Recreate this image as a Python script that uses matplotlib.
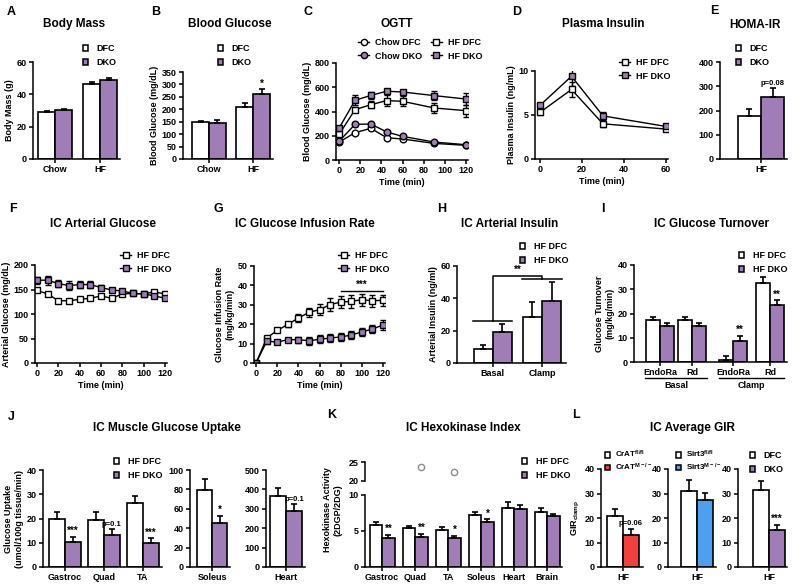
import matplotlib
matplotlib.use('Agg')
import matplotlib.pyplot as plt
from matplotlib.patches import Patch
from matplotlib.lines import Line2D
import numpy as np

plt.rcParams['font.family'] = ['Liberation Sans', 'DejaVu Sans']
plt.rcParams['font.weight'] = 'bold'
plt.rcParams['axes.labelweight'] = 'bold'
plt.rcParams['mathtext.default'] = 'regular'
plt.rcParams['axes.linewidth'] = 1.1

W, H = 800, 584
PURPLE = '#a07db6'
RED = '#f2403d'
BLUE = '#4ea0ef'

# ---- data ----
diet = ['Chow', 'HF']
mass_dfc = [28.8, 46.2]
mass_dfc_err = [0.7, 1.6]
mass_dko = [30.2, 48.8]
mass_dko_err = [0.7, 1.0]
bg_dfc = [148, 210]
bg_dfc_err = [6, 14]
bg_dko = [145, 263]
bg_dko_err = [12, 18]

ogtt_t = [0, 15, 30, 45, 60, 90, 120]
ogtt_chow_dfc = [148, 225, 261, 184, 173, 137, 121]
ogtt_chow_dfc_err = [8, 10, 15, 12, 10, 8, 6]
ogtt_chow_dko = [155, 294, 297, 231, 195, 148, 126]
ogtt_chow_dko_err = [10, 15, 12, 12, 10, 8, 6]
ogtt_hf_dfc = [212, 415, 456, 490, 484, 429, 407]
ogtt_hf_dfc_err = [15, 20, 30, 45, 40, 40, 50]
ogtt_hf_dko = [264, 492, 533, 567, 561, 531, 503]
ogtt_hf_dko_err = [15, 40, 30, 15, 20, 40, 50]

ins_t = [0, 15, 30, 60]
ins_dfc = [5.3, 7.9, 4.0, 3.4]
ins_dfc_err = [0.3, 0.8, 0.4, 0.2]
ins_dko = [6.1, 9.4, 4.9, 3.7]
ins_dko_err = [0.3, 1.1, 0.4, 0.2]

homa_dfc = [179]
homa_dfc_err = [27]
homa_dko = [254]
homa_dko_err = [37]

clamp_t = [0, 10, 20, 30, 40, 50, 60, 70, 80, 90, 100, 110, 120]
ag_dfc = [148, 141, 127, 127, 130, 132, 137, 132, 141, 142, 141, 145, 141]
ag_dfc_err = [3, 4, 3, 3, 3, 3, 3, 3, 3, 3, 3, 3, 3]
ag_dko = [169, 169, 162, 158, 160, 160, 154, 149, 147, 142, 141, 137, 132]
ag_dko_err = [7, 9, 7, 9, 7, 7, 6, 5, 4, 3, 3, 3, 3]

gir_dfc = [0, 12.9, 16.8, 19.9, 23.2, 26.1, 27.5, 30.1, 31.4, 31.8, 32.6, 32.1, 32.3]
gir_dfc_err = [0, 1, 1, 1.3, 2, 2.5, 3, 3.2, 3.3, 3.5, 3, 3, 3]
gir_dko = [0, 11.2, 10.8, 12.0, 12.0, 11.5, 12.2, 12.9, 13.4, 14.4, 16.0, 17.5, 19.6]
gir_dko_err = [0, 1.5, 1, 1, 1.5, 2, 2, 2, 2, 2, 2, 2, 2.5]

ins_state = ['Basal', 'Clamp']
art_ins_dfc = [8.7, 28.5]
art_ins_dfc_err = [2.5, 9]
art_ins_dko = [19.2, 38.5]
art_ins_dko_err = [4.8, 11.5]

turnover_cats = ['EndoRa', 'Rd', 'EndoRa', 'Rd']
turnover_dfc = [17.2, 17.3, 1.0, 32.7]
turnover_dfc_err = [1.3, 1.3, 1.6, 2.5]
turnover_dko = [15.0, 15.0, 8.7, 23.7]
turnover_dko_err = [1.2, 1.2, 2.0, 1.8]

muscles = ['Gastroc', 'Quad', 'TA']
uptake_dfc = [19.8, 19.3, 26.3]
uptake_dfc_err = [2.8, 3.2, 2.8]
uptake_dko = [10.4, 13.3, 10.1]
uptake_dko_err = [2.0, 2.5, 1.8]
soleus_dfc = [79]
soleus_dfc_err = [12]
soleus_dko = [45]
soleus_dko_err = [8]
heart_dfc = [366]
heart_dfc_err = [41]
heart_dko = [289]
heart_dko_err = [36]

tissues = ['Gastroc', 'Quad', 'TA', 'Soleus', 'Heart', 'Brain']
hk_dfc = [5.8, 5.4, 5.1, 7.2, 8.2, 7.6]
hk_dfc_err = [0.5, 0.3, 0.5, 0.4, 0.8, 0.6]
hk_dko = [4.0, 4.2, 4.0, 6.2, 8.1, 7.1]
hk_dko_err = [0.5, 0.4, 0.3, 0.4, 0.5, 0.2]
hk_outlier_idx = [1, 2]
hk_outlier_val = [23.8, 22.4]

crat_ctl = [20.8]
crat_ctl_err = [3.0]
crat_ko = [13.2]
crat_ko_err = [2.5]
sirt3_ctl = [31.2]
sirt3_ctl_err = [4.5]
sirt3_ko = [27.4]
sirt3_ko_err = [2.8]
dko_ctl = [31.5]
dko_ctl_err = [3.5]
dko_ko = [15.0]
dko_ko_err = [2.3]

fig = plt.figure(figsize=(8, 5.84), dpi=100)


def panel(x0, y0, x1, y1):
    ax = fig.add_axes([x0 / W, 1 - y1 / H, (x1 - x0) / W, (y1 - y0) / H])
    ax.spines[['top', 'right']].set_visible(False)
    ax.tick_params(labelsize=6.5, length=3, width=1.1, pad=1.5)
    return ax


def ftext(x, y, s, **kw):
    fig.text(x / W, 1 - y / H, s, **kw)


def title(x, y, s):
    ftext(x, y, s, ha='center', va='center', fontsize=8.5, fontweight='bold')


def letter(x, y, s):
    ftext(x, y, s, ha='left', va='center', fontsize=9, fontweight='bold')


def bars(ax, pos, vals, errs, color, offset, width):
    x = np.asarray(pos, dtype=float) + offset
    ax.bar(x, vals, width, color=color, edgecolor='k', linewidth=1.2, zorder=2)
    ax.errorbar(x, vals, yerr=[np.zeros(len(vals)), errs], fmt='none', ecolor='k',
                elinewidth=1.2, capsize=2.3, capthick=1.2, zorder=3)


def star(ax, x, y, s, size=7):
    ax.text(x, y, s, ha='center', va='bottom', fontsize=size, fontweight='bold')


def curve(ax, t, y, err, marker, face):
    ax.errorbar(t, y, yerr=err, fmt='-' + marker, color='k', mfc=face, mec='k', mew=1,
                ms=4.8, lw=1, elinewidth=1, capsize=2, capthick=1)


def bar_legend(x, y, labels, colors, size=6.5, spacing=0.55, pad=0.9):
    handles = [Patch(facecolor=c, edgecolor='k', linewidth=1.1) for c in colors]
    fig.legend(handles, labels, loc='upper left', bbox_to_anchor=(x / W, 1 - y / H),
               frameon=False, fontsize=size, borderaxespad=0, borderpad=0,
               handlelength=0.6, handleheight=0.6, handletextpad=pad, labelspacing=spacing)


def line_legend(x, y, labels, markers, faces, ncol=1):
    handles = [Line2D([], [], color='k', lw=1, marker=m, mfc=f, mec='k', ms=4.5)
               for m, f in zip(markers, faces)]
    fig.legend(handles, labels, loc='upper left', bbox_to_anchor=(x / W, 1 - y / H),
               frameon=False, fontsize=6.5, borderaxespad=0, borderpad=0, ncol=ncol,
               handlelength=1.25, handletextpad=0.6, labelspacing=0.5, columnspacing=1.0)


w = 0.38

# A Body Mass
ax = panel(33, 62, 120, 159)
pos = np.arange(2)
bars(ax, pos, mass_dfc, mass_dfc_err, 'white', -w / 2, w)
bars(ax, pos, mass_dko, mass_dko_err, PURPLE, w / 2, w)
ax.set_xlim(-0.49, 1.44)
ax.set_ylim(0, 60)
ax.set_yticks([0, 20, 40, 60])
ax.set_xticks(pos, diet)
ax.set_ylabel('Body Mass (g)', fontsize=6.5, labelpad=2)
bar_legend(83, 44, ['DFC', 'DKO'], ['white', PURPLE])
letter(7, 12, 'A')
title(74, 24, 'Body Mass')

# B Blood Glucose
ax = panel(183, 72, 273, 159)
bars(ax, pos, bg_dfc, bg_dfc_err, 'white', -w / 2, w)
bars(ax, pos, bg_dko, bg_dko_err, PURPLE, w / 2, w)
star(ax, 1 + w / 2, bg_dko[1] + bg_dko_err[1] + 3, '*')
ax.set_xlim(-0.59, 1.45)
ax.set_ylim(0, 350)
ax.set_yticks(range(0, 351, 50))
ax.set_xticks(pos, diet)
ax.set_ylabel('Blood Glucose (mg/dL)', fontsize=6.5, labelpad=2)
bar_legend(218, 44, ['DFC', 'DKO'], ['white', PURPLE])
letter(151, 12, 'B')
title(230, 24, 'Blood Glucose')

# C OGTT
ax = panel(336, 63, 468, 160)
curve(ax, ogtt_t, ogtt_chow_dfc, ogtt_chow_dfc_err, 'o', 'white')
curve(ax, ogtt_t, ogtt_chow_dko, ogtt_chow_dko_err, 'o', PURPLE)
curve(ax, ogtt_t, ogtt_hf_dfc, ogtt_hf_dfc_err, 's', 'white')
curve(ax, ogtt_t, ogtt_hf_dko, ogtt_hf_dko_err, 's', PURPLE)
ax.set_xlim(-3, 122)
ax.set_ylim(0, 800)
ax.set_yticks(range(0, 801, 200))
ax.set_xticks(range(0, 121, 20))
ax.set_xlabel('Time (min)', fontsize=6.5, labelpad=2)
ax.set_ylabel('Blood Glucose (mg/dL)', fontsize=6.5, labelpad=2)
line_legend(358, 38, ['Chow DFC', 'Chow DKO', 'HF DFC', 'HF DKO'],
            ['o', 'o', 's', 's'], ['white', PURPLE, 'white', PURPLE], ncol=2)
letter(303, 12, 'C')
title(397, 24, 'OGTT')

# D Plasma Insulin
ax = panel(535, 71, 668, 159)
curve(ax, ins_t, ins_dfc, ins_dfc_err, 's', 'white')
curve(ax, ins_t, ins_dko, ins_dko_err, 's', PURPLE)
ax.set_xlim(-2.4, 61)
ax.set_ylim(0, 10)
ax.set_yticks([0, 5, 10])
ax.set_xticks([0, 20, 40, 60])
ax.set_xlabel('Time (min)', fontsize=6.5, labelpad=2)
ax.set_ylabel('Plasma Insulin (ng/mL)', fontsize=6.5, labelpad=2)
line_legend(619, 58, ['HF DFC', 'HF DKO'], ['s', 's'], ['white', PURPLE])
letter(512, 12, 'D')
title(603, 24, 'Plasma Insulin')

# E HOMA-IR
ax = panel(720, 62, 787, 159)
we = 0.4
bars(ax, [0], homa_dfc, homa_dfc_err, 'white', -we / 2, we)
bars(ax, [0], homa_dko, homa_dko_err, PURPLE, we / 2, we)
star(ax, we / 2, homa_dko[0] + homa_dko_err[0] + 5, 'p=0.08', size=5.5)
ax.set_xlim(-0.71, 0.45)
ax.set_ylim(0, 400)
ax.set_yticks(range(0, 401, 100))
ax.set_xticks([0], ['HF'])
bar_legend(736, 44, ['DFC', 'DKO'], ['white', PURPLE])
letter(710, 11, 'E')
title(755, 25, 'HOMA-IR')

# F IC Arterial Glucose
ax = panel(35, 265, 167, 363)
curve(ax, clamp_t, ag_dfc, ag_dfc_err, 's', 'white')
curve(ax, clamp_t, ag_dko, ag_dko_err, 's', PURPLE)
ax.set_xlim(-1.9, 121.9)
ax.set_ylim(0, 200)
ax.set_yticks(range(0, 201, 50))
ax.set_xticks(range(0, 121, 20))
ax.set_xlabel('Time (min)', fontsize=6.5, labelpad=2)
ax.set_ylabel('Arterial Glucose (mg/dL)', fontsize=6.5, labelpad=2)
line_legend(120, 251, ['HF DFC', 'HF DKO'], ['s', 's'], ['white', PURPLE])
letter(9, 209, 'F')
title(103, 224, 'IC Arterial Glucose')

# G IC Glucose Infusion Rate
ax = panel(254, 266, 385, 363)
curve(ax, clamp_t, gir_dfc, gir_dfc_err, 's', 'white')
curve(ax, clamp_t, gir_dko, gir_dko_err, 's', PURPLE)
ax.plot([80, 120], [37, 37], color='k', lw=1)
star(ax, 100, 37.5, '***')
ax.set_xlim(-2, 121.9)
ax.set_ylim(0, 50)
ax.set_yticks(range(0, 51, 10))
ax.set_xticks(range(0, 121, 20))
ax.set_xlabel('Time (min)', fontsize=6.5, labelpad=2)
ax.set_ylabel('Glucose Infusion Rate\n(mg/kg/min)', fontsize=6.5, labelpad=2)
line_legend(338, 251, ['HF DFC', 'HF DKO'], ['s', 's'], ['white', PURPLE])
letter(213, 209, 'G')
title(305, 224, 'IC Glucose Infusion Rate')

# H IC Arterial Insulin
ax = panel(457, 266, 566, 363)
wh = 0.39
bars(ax, pos, art_ins_dfc, art_ins_dfc_err, 'white', -wh / 2, wh)
bars(ax, pos, art_ins_dko, art_ins_dko_err, PURPLE, wh / 2, wh)
ax.plot([-0.4, 0.4], [26, 26], color='k', lw=1.1, clip_on=False)
ax.plot([0.6, 1.4], [52, 52], color='k', lw=1.1, clip_on=False)
ax.plot([0, 0, 1, 1], [26, 54, 54, 52], color='k', lw=1.1, clip_on=False)
ax.text(0.5, 54.5, '**', ha='center', va='bottom', fontsize=7, fontweight='bold')
ax.set_xlim(-0.73, 1.49)
ax.set_ylim(0, 60)
ax.set_yticks([0, 20, 40, 60])
ax.set_xticks(pos, ins_state)
ax.set_ylabel('Arterial Insulin (ng/ml)', fontsize=6.5, labelpad=2)
bar_legend(520, 242, ['HF DFC', 'HF DKO'], ['white', PURPLE])
letter(437, 209, 'H')
title(510, 224, 'IC Arterial Insulin')

# I IC Glucose Turnover
ax = panel(634, 265, 787, 362)
wi = 0.45
ipos = [0, 1, 2.28, 3.44]
bars(ax, ipos, turnover_dfc, turnover_dfc_err, 'white', -wi / 2, wi)
bars(ax, ipos, turnover_dko, turnover_dko_err, PURPLE, wi / 2, wi)
for k in [2, 3]:
    star(ax, ipos[k] + wi / 2, turnover_dko[k] + turnover_dko_err[k] + 0.3, '**')
ax.set_xlim(-0.81, 3.97)
ax.set_ylim(0, 40)
ax.set_yticks(range(0, 41, 10))
ax.set_xticks(ipos, turnover_cats)
tr = ax.get_xaxis_transform()
for (a, b), name in zip([(-0.47, 1.47), (1.84, 3.88)], ['Basal', 'Clamp']):
    ax.plot([a, b], [-0.165, -0.165], color='k', lw=1, transform=tr, clip_on=False)
    ax.text((a + b) / 2, -0.2, name, transform=tr, ha='center', va='top',
            fontsize=6.5, fontweight='bold')
ax.set_ylabel('Glucose Turnover\n(mg/kg/min)', fontsize=6.5, labelpad=2)
bar_legend(739, 251, ['HF DFC', 'HF DKO'], ['white', PURPLE])
letter(601, 209, 'I')
title(712, 224, 'IC Glucose Turnover')

# J IC Muscle Glucose Uptake
wj = 0.41
ax = panel(43, 470, 162, 567)
jpos = np.arange(3)
bars(ax, jpos, uptake_dfc, uptake_dfc_err, 'white', -wj / 2, wj)
bars(ax, jpos, uptake_dko, uptake_dko_err, PURPLE, wj / 2, wj)
for k, s in zip(range(3), ['***', 'p=0.1', '***']):
    star(ax, k + wj / 2, uptake_dko[k] + uptake_dko_err[k] + 0.3, s, size=5.5 if s.startswith('p') else 7)
ax.set_xlim(-0.56, 2.49)
ax.set_ylim(0, 40)
ax.set_yticks(range(0, 41, 10))
ax.set_xticks(jpos, muscles)
ax.set_ylabel('Glucose Uptake\n(umol/100g tissue/min)', fontsize=6.5, labelpad=2)

ax = panel(190, 470, 230, 567)
bars(ax, [0], soleus_dfc, soleus_dfc_err, 'white', -0.2, 0.4)
bars(ax, [0], soleus_dko, soleus_dko_err, PURPLE, 0.2, 0.4)
star(ax, 0.2, soleus_dko[0] + soleus_dko_err[0] + 1, '*')
ax.set_xlim(-0.59, 0.48)
ax.set_ylim(0, 100)
ax.set_yticks(range(0, 101, 20))
ax.set_xticks([0], ['Soleus'])

ax = panel(266, 470, 305, 567)
bars(ax, [0], heart_dfc, heart_dfc_err, 'white', -0.2, 0.4)
bars(ax, [0], heart_dko, heart_dko_err, PURPLE, 0.2, 0.4)
star(ax, 0.2, heart_dko[0] + heart_dko_err[0] + 5, 'p=0.1', size=5.5)
ax.set_xlim(-0.5, 0.475)
ax.set_ylim(0, 500)
ax.set_yticks(range(0, 501, 100))
ax.set_xticks([0], ['Heart'])
bar_legend(114, 457, ['HF DFC', 'HF DKO'], ['white', PURPLE])
letter(8, 417, 'J')
title(167, 428, 'IC Muscle Glucose Uptake')

# K IC Hexokinase Index (broken y axis)
wk = 0.38
kpos = np.arange(6)
ax = panel(365, 495, 562, 567)
bars(ax, kpos, hk_dfc, hk_dfc_err, 'white', -wk / 2, wk)
bars(ax, kpos, hk_dko, hk_dko_err, PURPLE, wk / 2, wk)
for k, s in zip(range(4), ['**', '**', '*', '*']):
    star(ax, k + wk / 2, hk_dko[k] + hk_dko_err[k] + 0.1, s)
ax.set_xlim(-0.52, 5.45)
ax.set_ylim(0, 10)
ax.set_yticks([0, 5, 10])
ax.set_xticks(kpos, tissues)
axt = panel(365, 462, 562, 481)
axt.spines['bottom'].set_visible(False)
axt.plot(np.array(hk_outlier_idx) + wk / 2, hk_outlier_val, 'o', mfc='none', mec='0.55',
         mew=1, ms=4.5)
axt.set_xlim(-0.52, 5.45)
axt.set_ylim(20, 25)
axt.set_yticks([20, 25])
axt.set_xticks([])
ftext(333, 510, 'Hexokinase Activity\n(2DGP/2DG)', rotation=90, ha='center', va='center',
      fontsize=6.5, fontweight='bold')
bar_legend(522, 457, ['HF DFC', 'HF DKO'], ['white', PURPLE])
letter(327, 415, 'K')
title(463, 428, 'IC Hexokinase Index')

# L IC Average GIR
ax = panel(601, 469, 643, 567)
bars(ax, [0], crat_ctl, crat_ctl_err, 'white', -0.2, 0.4)
bars(ax, [0], crat_ko, crat_ko_err, RED, 0.2, 0.4)
star(ax, 0.2, crat_ko[0] + crat_ko_err[0] + 0.5, 'p=0.06', size=5.5)
ax.set_xlim(-0.55, 0.5)
ax.set_ylim(0, 40)
ax.set_yticks(range(0, 41, 10))
ax.set_xticks([0], ['HF'])
ax.set_ylabel('GIR$_{clamp}$', fontsize=6.5, labelpad=2)
bar_legend(605, 449, ['CrAT$^{fl/fl}$', 'CrAT$^{M-/-}$'], ['white', RED],
           size=5.8, spacing=0.2, pad=0.7)

ax = panel(668, 469, 716, 567)
bars(ax, [0], sirt3_ctl, sirt3_ctl_err, 'white', -0.2, 0.4)
bars(ax, [0], sirt3_ko, sirt3_ko_err, BLUE, 0.2, 0.4)
ax.set_xlim(-0.73, 0.48)
ax.set_ylim(0, 40)
ax.set_yticks(range(0, 41, 10))
ax.set_xticks([0], ['HF'])
bar_legend(676, 449, ['Sirt3$^{fl/fl}$', 'Sirt3$^{M-/-}$'], ['white', BLUE],
           size=5.8, spacing=0.2, pad=0.7)

ax = panel(738, 469, 787, 567)
bars(ax, [0], dko_ctl, dko_ctl_err, 'white', -0.2, 0.4)
bars(ax, [0], dko_ko, dko_ko_err, PURPLE, 0.2, 0.4)
star(ax, 0.2, dko_ko[0] + dko_ko_err[0] + 0.3, '***')
ax.set_xlim(-0.78, 0.45)
ax.set_ylim(0, 40)
ax.set_yticks(range(0, 41, 10))
ax.set_xticks([0], ['HF'])
bar_legend(750, 451, ['DFC', 'DKO'], ['white', PURPLE])
letter(572, 415, 'L')
title(692, 428, 'IC Average GIR')

fig.savefig('out.png', dpi=100)
